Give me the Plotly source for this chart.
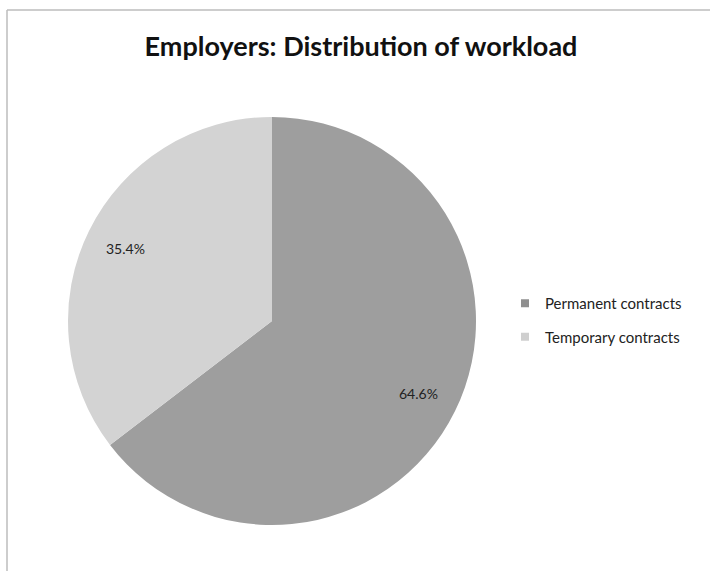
import math
import plotly.graph_objects as go

W, H = 710, 571

labels = ["Permanent contracts", "Temporary contracts"]
values = [64.6, 35.4]
colors = ["#9e9e9e", "#d3d3d3"]
legend_colors = ["#8f8f8f", "#cfcfcf"]
title_text = "Employers: Distribution of workload"

FONT = "Lato, 'Open Sans', sans-serif"

def px(x):
    return x / W

def py(y):
    return 1 - y / H

# pie geometry (reference pixels)
CX, CY, R = 272, 321, 204
LABEL_R = 0.80 * R

fig = go.Figure()
fig.add_trace(go.Pie(
    labels=labels,
    values=values,
    sort=False,
    direction="clockwise",
    rotation=0,
    marker=dict(colors=colors, line=dict(width=0)),
    textinfo="none",
    domain=dict(x=[px(CX - R), px(CX + R)], y=[py(CY + R), py(CY - R)]),
    hoverinfo="label+percent",
    showlegend=False,
))

# percentage labels placed at each slice's mid-angle
total = sum(values)
annotations = []
start = 0.0
for v in values:
    frac = v / total
    mid = (start + frac / 2) * 2 * math.pi
    lx = CX + LABEL_R * math.sin(mid)
    ly = CY - LABEL_R * math.cos(mid)
    annotations.append(dict(
        x=px(lx), y=py(ly), xref="paper", yref="paper",
        text=f"{100 * frac:.1f}%", showarrow=False,
        font=dict(family=FONT, size=14, color="#222222"),
        xanchor="center", yanchor="middle",
    ))
    start += frac

# legend entries
for i, (lab, col) in enumerate(zip(labels, legend_colors)):
    fig.add_trace(go.Scatter(
        x=[None], y=[None], mode="markers", name=lab,
        marker=dict(symbol="square", size=8, color=col, line=dict(width=0)),
        legendgroup=f"g{i}", showlegend=True, hoverinfo="skip",
    ))

fig.update_layout(
    width=W, height=H,
    margin=dict(l=0, r=0, t=0, b=0),
    paper_bgcolor="white",
    plot_bgcolor="white",
    font=dict(family=FONT, color="#222222"),
    xaxis=dict(visible=False),
    yaxis=dict(visible=False),
    title=dict(
        text="<b>" + title_text + "</b>",
        x=px(361), xanchor="center",
        y=py(47), yanchor="middle",
        font=dict(family=FONT, size=27, color="#111111"),
    ),
    showlegend=True,
    legend=dict(
        x=px(505), xanchor="left",
        y=py(287), yanchor="top",
        font=dict(family=FONT, size=15, color="#222222"),
        itemwidth=30,
        tracegroupgap=11,
        bgcolor="rgba(0,0,0,0)",
    ),
    annotations=annotations,
    shapes=[
        dict(type="line", xref="paper", yref="paper",
             x0=px(7), x1=1.0, y0=py(10), y1=py(10),
             line=dict(color="#bdbdbd", width=1.5)),
        dict(type="line", xref="paper", yref="paper",
             x0=px(7), x1=px(7), y0=0, y1=py(10),
             line=dict(color="#bdbdbd", width=1.5)),
    ],
)

fig.write_html(
    "out.html",
    config={"displayModeBar": False},
    post_script="document.body.style.margin='0';document.body.style.padding='0';",
)
